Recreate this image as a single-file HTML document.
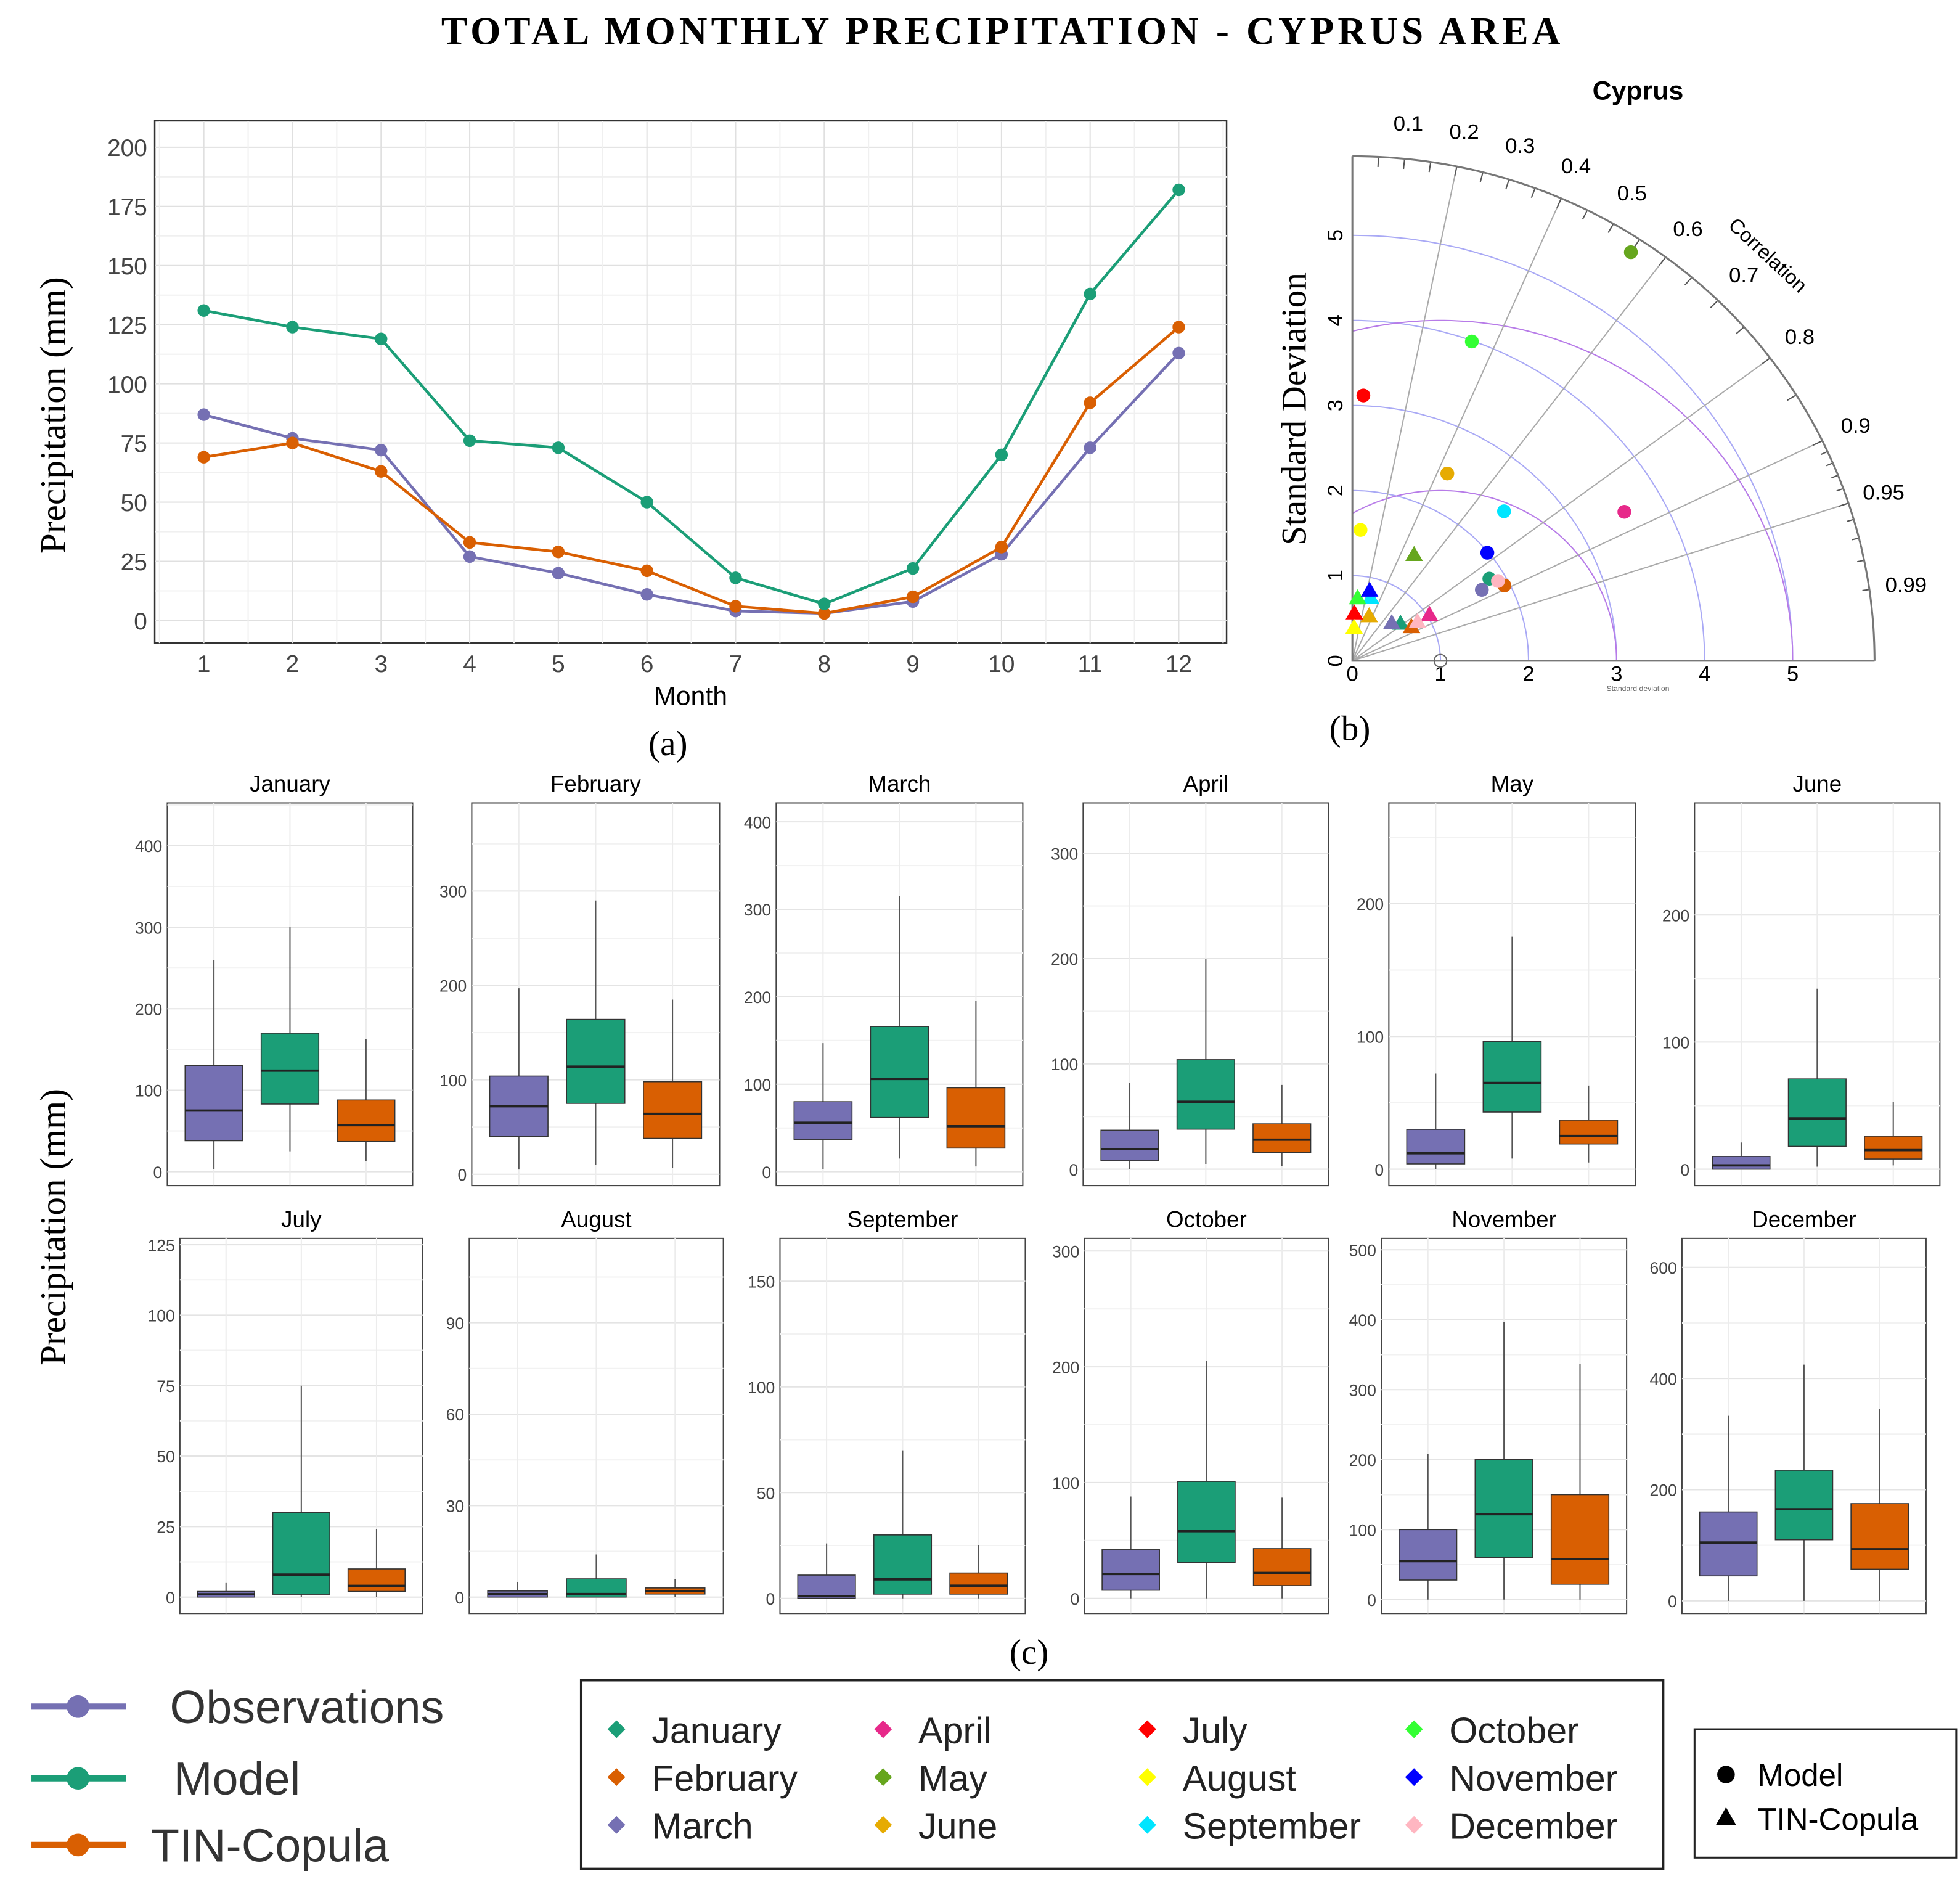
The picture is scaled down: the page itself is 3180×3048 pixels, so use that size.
<!DOCTYPE html>
<html><head><meta charset="utf-8"><style>
html,body{margin:0;padding:0;background:#fff}
svg{display:block}
text{font-family:"Liberation Sans",sans-serif}
.serif{font-family:"Liberation Serif",serif}
</style></head><body>
<svg id="fig" xmlns="http://www.w3.org/2000/svg" width="3180" height="3048" viewBox="0 0 1558 1493" preserveAspectRatio="none">
<text class="serif" x="797" y="35" font-size="31" text-anchor="middle" letter-spacing="3" font-weight="bold">TOTAL MONTHLY PRECIPITATION - CYPRUS AREA</text>
<g id="pa"></g>
<g id="pb"></g>
<g id="pc"></g>
<g id="lg"></g>
</svg>
<script>
const NS="http://www.w3.org/2000/svg";
function mk(p,tag,at,txt){const e=document.createElementNS(NS,tag);for(const k in at)e.setAttribute(k,at[k]);if(txt!==undefined)e.textContent=txt;p.appendChild(e);return e;}
const C={obs:"#7570b3",mod:"#1b9e77",tin:"#d95f02"};

// ---------- Panel (a) data ----------
const months=[1,2,3,4,5,6,7,8,9,10,11,12];
const modelSeries=[131,124,119,76,73,50,18,7,22,70,138,182];
const obsSeries=[87,77,72,27,20,11,4,3,8,28,73,113];
const tinSeries=[69,75,63,33,29,21,6,3,10,31,92,124];
const yTicksA=[0,25,50,75,100,125,150,175,200];

const pa=document.getElementById('pa');
const ax={l:123,r:975,t:96,b:511};
const xA=m=>162+(m-1)*(937-162)/11;
const yA=v=>493-v*(493-117)/200;
let e;
e=mk(pa,'rect',{x:ax.l,y:ax.t,width:ax.r-ax.l,height:ax.b-ax.t,fill:'#fff',stroke:'#333','stroke-width':1.2});


for(let v=-12.5;v<=212.5;v+=12.5){const y=yA(v);if(y<ax.t||y>ax.b)continue;
 e=mk(pa,'line',{x1:ax.l,x2:ax.r,y1:y,y2:y,stroke:v%25===0?'#e0e0e0':'#f0f0f0','stroke-width':1});
 
 }
for(let m=0.5;m<=12.5;m+=0.5){const x=xA(m);if(x<ax.l||x>ax.r)continue;
 e=mk(pa,'line',{y1:ax.t,y2:ax.b,x1:x,x2:x,stroke:m%1===0?'#e0e0e0':'#f0f0f0','stroke-width':1});
 
 }
yTicksA.forEach(v=>{
 e=mk(pa,'text',{x:117,y:yA(v)+7,'font-size':19,'text-anchor':'end',fill:'#444'},v);
 
 });
months.forEach(m=>{
 e=mk(pa,'text',{x:xA(m),y:534,'font-size':19,'text-anchor':'middle',fill:'#444'},m);
 
 });
e=mk(pa,'text',{x:549,y:560,'font-size':21,'text-anchor':'middle'},'Month');


e=mk(pa,'text',{x:0,y:0,'font-size':29,'text-anchor':'middle',class:'serif',transform:'translate(52,330) rotate(-90)'},'Precipitation (mm)');


e=mk(pa,'text',{x:531,y:600,'font-size':28,'text-anchor':'middle',class:'serif'},'(a)');


[[obsSeries,C.obs,'observations'],[tinSeries,C.tin,'tin-copula'],[modelSeries,C.mod,'model']].forEach(([s,c,n])=>{
 e=mk(pa,'polyline',{points:s.map((v,i)=>xA(months[i])+','+yA(v)).join(' '),fill:'none',stroke:c,'stroke-width':2.2});
 
 
 s.forEach((v,i)=>{e=mk(pa,'circle',{cx:xA(months[i]),cy:yA(v),r:5,fill:c});
 
 });
});

// ---------- Panel (b) Taylor ----------
const monthNames=["January","February","March","April","May","June","July","August","September","October","November","December"];
const monthColors=["#1b9e77","#d95f02","#7570b3","#e7298a","#66a61e","#e6ab02","#ff0000","#ffff00","#00e5ff","#33ff33","#0000ff","#ffb6c1"];
const modelSd=[1.83,1.94,1.69,3.55,5.75,2.45,3.12,1.54,2.46,3.99,1.99,1.90];
const modelCorr=[0.85,0.89,0.87,0.87,0.55,0.44,0.04,0.06,0.70,0.34,0.77,0.87];
const tinSd=[0.70,0.78,0.63,1.03,1.43,0.56,0.56,0.39,0.77,0.74,0.85,0.87];
const tinCorr=[0.78,0.86,0.71,0.85,0.49,0.34,0.04,0.05,0.27,0.08,0.23,0.85];
const corrTicks=[0.1,0.2,0.3,0.4,0.5,0.6,0.7,0.8,0.9,0.95,0.99];
const corrRays=[0.2,0.4,0.6,0.8,0.9,0.95];
const sdTicks=[0,1,2,3,4,5];

const pb=document.getElementById('pb');
const O={x:1075,y:525},SX=70,SY=67.6,RMAX=5.93;
const tp=(sd,c)=>{const a=Math.acos(c);return [O.x+sd*Math.cos(a)*SX,O.y-sd*Math.sin(a)*SY];};
const arcPath=(cx,cy,r,a0,a1)=>{let d='';for(let i=0;i<=90;i++){const a=a0+(a1-a0)*i/90;const X=O.x+(cx+r*Math.cos(a))*SX,Y=O.y-(cy+r*Math.sin(a))*SY;d+=(i?'L':'M')+X.toFixed(1)+','+Y.toFixed(1);}return d;};
e=mk(pb,'text',{x:1302,y:79,'font-size':21,'font-weight':'bold','text-anchor':'middle'},'Cyprus');


[1,2,3,4,5].forEach(r=>{e=mk(pb,'path',{d:arcPath(0,0,r,0,Math.PI/2),fill:'none',stroke:'#a9a9f5','stroke-width':1});
 
 });
[2,4].forEach(r=>{const lim=Math.acos(-1/r);e=mk(pb,'path',{d:arcPath(1,0,r,0,Math.min(lim,Math.PI)),fill:'none',stroke:'#b77be8','stroke-width':1});
 
 });
corrRays.forEach(c=>{const [x,y]=tp(RMAX,c);
 e=mk(pb,'line',{x1:O.x,y1:O.y,x2:x,y2:y,stroke:'#aaa','stroke-width':1});
 
 });
corrTicks.forEach(c=>{
 const [lx,ly]=tp(RMAX+0.42,c);
 e=mk(pb,'text',{x:lx,y:ly+6,'font-size':17,'text-anchor':'middle'},c);
 
 });
for(let c=0.05;c<1;c+=0.05){const [x1,y1]=tp(RMAX,c),[x2,y2]=tp(RMAX-0.12,c);
 e=mk(pb,'line',{x1,y1,x2,y2,stroke:'#555','stroke-width':1});
 
 }
for(let c=0.91;c<1;c+=0.01){const [x1,y1]=tp(RMAX,c),[x2,y2]=tp(RMAX-0.08,c);
 e=mk(pb,'line',{x1,y1,x2,y2,stroke:'#555','stroke-width':1});
 
 }
e=mk(pb,'path',{d:arcPath(0,0,RMAX,0,Math.PI/2),fill:'none',stroke:'#777','stroke-width':1.5});


e=mk(pb,'path',{d:`M${O.x},${O.y-RMAX*SY}L${O.x},${O.y}L${O.x+RMAX*SX},${O.y}`,fill:'none',stroke:'#777','stroke-width':1.5});


sdTicks.forEach(v=>{
 e=mk(pb,'text',{x:O.x+v*SX,y:O.y+16,'font-size':17,'text-anchor':'middle'},v);
 
 
 e=mk(pb,'text',{x:0,y:0,'font-size':17,'text-anchor':'middle',transform:`translate(1067,${O.y-v*SY}) rotate(-90)`},v);
 
 });
e=mk(pb,'text',{x:0,y:0,'font-size':28,'text-anchor':'middle',class:'serif',transform:'translate(1038,325) rotate(-90)'},'Standard Deviation');


e=mk(pb,'text',{x:0,y:0,'font-size':16,transform:'translate(1373,180) rotate(43)'},'Correlation');


e=mk(pb,'text',{x:1302,y:549,'font-size':6,'text-anchor':'middle',fill:'#666'},'Standard deviation');


e=mk(pb,'circle',{cx:O.x+SX,cy:O.y,r:5,fill:'none',stroke:'#666'});


tinSd.forEach((s,i)=>{const [x,y]=tp(s,tinCorr[i]);
 e=mk(pb,'polygon',{points:`${x},${y-7} ${x-7},${y+5} ${x+7},${y+5}`,fill:monthColors[i]});
 
 });
modelSd.forEach((s,i)=>{const [x,y]=tp(s,modelCorr[i]);
 e=mk(pb,'circle',{cx:x,cy:y,r:5.5,fill:monthColors[i]});
 
 });
e=mk(pb,'text',{x:1073,y:588,'font-size':28,'text-anchor':'middle',class:'serif'},'(b)');



// ---------- Panel (c) boxplots ----------
const obsBox=[[3,38,75,130,260],[5,40,72,104,197],[3,37,56,80,147],[0,8,19,37,82],[0,4,12,30,72],[0,0,3,10,21],[0,0,1,2,5],[0,0,1,2,5],[0,0,1,11,26],[0,7,21,42,88],[0,28,55,100,208],[0,45,105,160,333]];
const modBox=[[25,83,124,170,300],[10,75,114,164,290],[15,62,106,166,315],[5,38,64,104,200],[8,43,65,96,175],[2,18,40,71,142],[0,1,8,30,75],[0,0,1,6,14],[0,2,9,30,70],[0,31,58,101,205],[0,60,122,200,397],[0,110,165,235,425]];
const tinBox=[[13,37,57,88,163],[7,38,64,98,185],[6,27,52,96,195],[3,16,28,43,80],[5,19,25,37,63],[3,8,15,26,53],[0,2,4,10,24],[0,1,2,3,6],[0,2,6,12,25],[0,11,22,43,87],[0,22,58,150,337],[0,57,93,175,345]];
const tickStep=[100,100,100,100,100,100,25,30,50,100,100,200];
const tickMax=[400,300,400,300,200,200,125,90,150,300,500,600];
const panelX=[[133,328],[375,572],[617,813],[861,1056],[1104,1300],[1347,1542],[143,336],[373,575],[620,815],[862,1056],[1098,1293],[1337,1531]];
const zeroPx=[931,933,931,929,929,929,1269,1269,1270,1270,1271,1272];
const topPx=[672,708,653,678,718,727,989,1051,1018,994,993,1007];

const pc=document.getElementById('pc');
for(let i=0;i<12;i++){
 const g=mk(pc,'g',{});
 
 
 const [x0,x1]=panelX[i];const row=i<6?0:1;const t=row?984:638,b=row?1282:942;
 const y=v=>zeroPx[i]-v*(zeroPx[i]-topPx[i])/tickMax[i];
 const w=x1-x0;
 e=mk(g,'rect',{x:x0,y:t,width:w,height:b-t,fill:'#fff',stroke:'#444','stroke-width':1});
 
 
 for(let v=0;y(v)>=t;v+=tickStep[i]/2){
  e=mk(g,'line',{x1:x0,x2:x1,y1:y(v),y2:y(v),stroke:(v/tickStep[i])%1===0?'#e4e4e4':'#f2f2f2'});
  
  
  if((v/tickStep[i])%1===0){
   e=mk(g,'text',{x:x0-4,y:y(v)+5,'font-size':13,'text-anchor':'end',fill:'#444'},v);
   
   }
 }
 [0.19,0.5,0.81].forEach(f=>{e=mk(g,'line',{x1:x0+f*w,x2:x0+f*w,y1:t,y2:b,stroke:'#ececec'});
  
  });
 e=mk(g,'text',{x:(x0+x1)/2,y:t-9,'font-size':18,'text-anchor':'middle'},monthNames[i]);
 
 
 [[obsBox,C.obs,0.19,'obs'],[modBox,C.mod,0.5,'model'],[tinBox,C.tin,0.81,'tin']].forEach(([B,c,f,n])=>{
  const d=B[i],cx=x0+f*w,bw=0.235*w;
  e=mk(g,'line',{x1:cx,x2:cx,y1:y(d[0]),y2:y(d[4]),stroke:'#555','stroke-width':1});
  
  
  e=mk(g,'rect',{x:cx-bw/2,y:y(d[3]),width:bw,height:Math.max(1.5,y(d[1])-y(d[3])),fill:c,stroke:'#333','stroke-width':0.8});
  
  
  e=mk(g,'line',{x1:cx-bw/2,x2:cx+bw/2,y1:y(d[2]),y2:y(d[2]),stroke:'#222','stroke-width':1.8});
  
  
 });
}
e=mk(pc,'text',{x:0,y:0,'font-size':29,'text-anchor':'middle',class:'serif',transform:'translate(52,975) rotate(-90)'},'Precipitation (mm)');


e=mk(pc,'text',{x:818,y:1322,'font-size':28,'text-anchor':'middle',class:'serif'},'(c)');



// ---------- Legends ----------
const lg=document.getElementById('lg');
const seriesNames=["Observations","Model","TIN-Copula"];
[[C.obs,1356,135],[C.mod,1413,138],[C.tin,1466,120]].forEach(([c,yy,tx],k)=>{
 e=mk(lg,'line',{x1:25,x2:100,y1:yy,y2:yy,stroke:c,'stroke-width':5});
 
 
 e=mk(lg,'circle',{cx:62,cy:yy,r:9,fill:c});
 
 
 e=mk(lg,'text',{x:tx,y:yy+13,'font-size':37,fill:'#333'},seriesNames[k]);
 
 });
e=mk(lg,'rect',{x:462,y:1335,width:860,height:150,fill:'#fff',stroke:'#222','stroke-width':2});


const colX=[490,702,912,1124];
monthNames.forEach((m,i)=>{const col=Math.floor(i/3),row=i%3,cx=colX[col],cy=1374+row*38;
 e=mk(lg,'rect',{x:cx-5,y:cy-5,width:10,height:10,fill:monthColors[i],transform:`rotate(45 ${cx} ${cy})`});
 
 
 e=mk(lg,'text',{x:cx+28,y:cy+11,'font-size':29,fill:'#222'},m);
 
 });
e=mk(lg,'rect',{x:1347,y:1374,width:208,height:102,fill:'#fff',stroke:'#222','stroke-width':1.5});


e=mk(lg,'circle',{cx:1372,cy:1410,r:7,fill:'#000'});


e=mk(lg,'text',{x:1397,y:1419,'font-size':25},'Model');


e=mk(lg,'polygon',{points:'1372,1436 1364,1450 1380,1450',fill:'#000'});


e=mk(lg,'text',{x:1397,y:1454,'font-size':25},'TIN-Copula');


</script>
</body></html>
